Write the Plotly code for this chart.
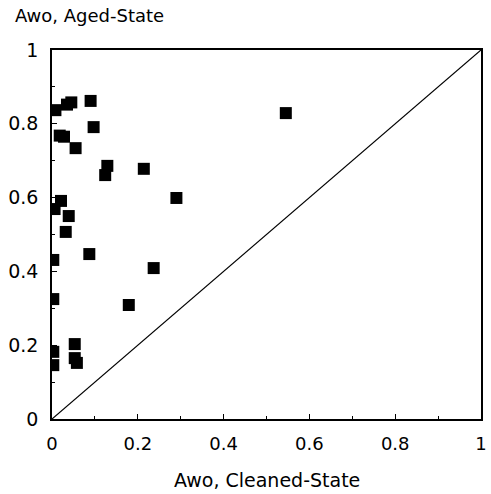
import plotly.graph_objects as go

# Awo values
cleaned_state = [0.545, 0.290, 0.237, 0.179, 0.214, 0.129, 0.124, 0.090, 0.097, 0.055,
                 0.018, 0.028, 0.035, 0.045, 0.008, 0.021, 0.006, 0.039, 0.032, 0.087,
                 0.003, 0.003, 0.053, 0.053, 0.058, 0.003, 0.003]
aged_state = [0.829, 0.599, 0.409, 0.309, 0.678, 0.686, 0.661, 0.862, 0.791, 0.734,
              0.768, 0.765, 0.852, 0.858, 0.837, 0.591, 0.569, 0.550, 0.507, 0.447,
              0.431, 0.325, 0.203, 0.165, 0.152, 0.182, 0.146]

# equality line
line_x = [0, 1]
line_y = [0, 1]

tick_vals = [0, 0.2, 0.4, 0.6, 0.8, 1]
tick_text = ["0", "0.2", "0.4", "0.6", "0.8", "1"]

FONT = "DejaVu Sans"

fig = go.Figure()
fig.add_trace(go.Scatter(x=line_x, y=line_y, mode="lines",
                         line=dict(color="black", width=1.2), showlegend=False,
                         hoverinfo="skip"))
fig.add_trace(go.Scatter(x=cleaned_state, y=aged_state, mode="markers",
                         marker=dict(symbol="square", size=12, color="black",
                                     line=dict(width=0)),
                         showlegend=False))

axis_common = dict(
    range=[0, 1], showgrid=False, zeroline=False,
    showline=True, linecolor="black", linewidth=1.5, mirror=True,
    ticks="inside", ticklen=5, tickwidth=1.2, tickcolor="black",
    tickvals=tick_vals, ticktext=tick_text,
    minor=dict(ticks="inside", ticklen=3, tickwidth=1, tickcolor="black", dtick=0.1, tick0=0),
    ticklabelstandoff=8,
)

fig.update_xaxes(**axis_common, tickfont=dict(family=FONT, size=18, color="black"))
fig.update_yaxes(**axis_common, tickfont=dict(family=FONT, size=19, color="black"))

fig.update_layout(
    width=491, height=494,
    margin=dict(l=52, r=4, t=50, b=75),
    paper_bgcolor="white", plot_bgcolor="white",
    font=dict(family=FONT, color="black"),
    annotations=[
        dict(text="Awo, Aged-State", xref="paper", yref="paper",
             x=(12 - 52) / 435, y=1 + (50 - 16) / 369, xanchor="left", yanchor="middle",
             showarrow=False, font=dict(family=FONT, size=18, color="black")),
        dict(text="Awo, Cleaned-State", xref="paper", yref="paper",
             x=0.5, y=-(480 - 419) / 369, xanchor="center", yanchor="middle",
             showarrow=False, font=dict(family=FONT, size=19, color="black")),
    ],
)

fig.write_html("out.html")
